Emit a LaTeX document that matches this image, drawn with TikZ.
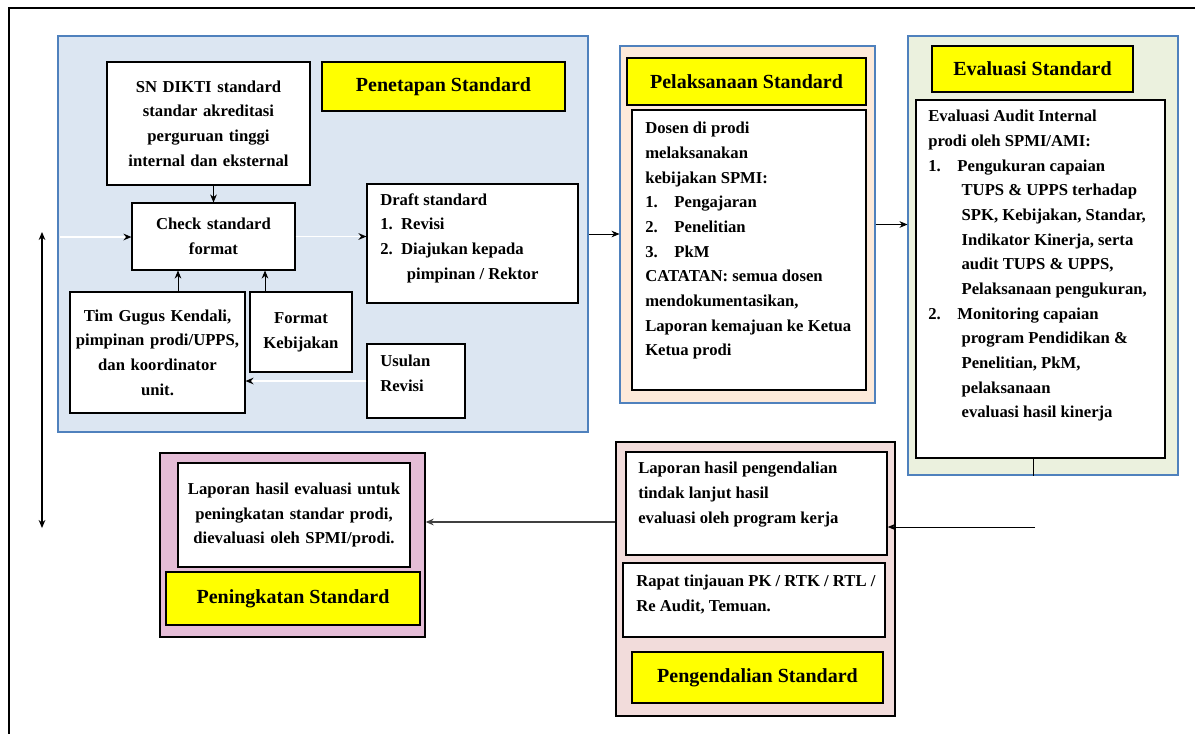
\documentclass[tikz,border=0pt]{standalone}
\usepackage{fontspec}
\setmainfont{Liberation Serif}
\usetikzlibrary{arrows.meta}
\definecolor{pblue}{HTML}{DCE6F2}
\definecolor{pborder}{HTML}{4F81BD}
\definecolor{porange}{HTML}{FDEADA}
\definecolor{pgreen}{HTML}{EBF1DE}
\definecolor{ppink}{HTML}{E4BCD6}
\definecolor{ppeach}{HTML}{F2DCDB}
\definecolor{hyellow}{HTML}{FFFF00}
\newcommand\fs{\fontsize{12.5}{18.5}\selectfont\bfseries}
\newcommand\hfs{\fontsize{15}{18}\selectfont\bfseries}
\newcommand\rbox[7]{\node[#6, minimum width={(#4-#2)*0.75pt}, minimum height={(#5-#3)*0.75pt}, inner sep=0pt] (#1) at ({(#2+#4)/2},{(#3+#5)/2}) {#7};}
\tikzset{
  panel/.style={draw=pborder, line width=0.8pt},
  wbox/.style={draw=black, fill=white, line width=0.8pt},
  ybox/.style={draw=black, fill=hyellow, line width=0.9pt, font=\hfs},
  txt/.style={inner sep=0pt, align=left, font=\fs},
  ctxt/.style={align=center, font=\fs},
  arr/.style={-{Stealth[length=6pt,width=5pt]}, line width=0.6pt},
  parr/.style={-{Stealth[length=6pt,width=5pt,black]}, draw=white, line width=1.2pt},
}
\begin{document}
\begin{tikzpicture}[x=0.75pt,y=-0.75pt]
\useasboundingbox (0,0) rectangle (1195,733);
\draw[line width=1.2pt] (9,745) -- (9,8) -- (1205,8);

% ---------- Penetapan ----------
\rbox{pen}{58}{36}{588}{432}{panel, fill=pblue}{}
\rbox{sn}{107}{62}{310}{185}{wbox, ctxt, text width={195*0.75pt}}{SN DIKTI standard\\standar akreditasi\\perguruan tinggi\\internal dan eksternal}
\rbox{penH}{322}{62}{565}{111}{ybox}{Penetapan Standard}
\rbox{chk}{132}{203}{295}{270}{wbox, ctxt, text width={155*0.75pt}}{Check standard\\format}
\rbox{drf}{367}{184}{578}{303}{wbox}{}
\node[txt, anchor=north west] (drft) at (380,193) {Draft standard\\1.\enspace Revisi\\2.\enspace Diajukan kepada\\\hspace*{1.6em}pimpinan / Rektor};
\rbox{tim}{70}{292}{245}{413}{wbox, ctxt, text width={165*0.75pt}}{Tim Gugus Kendali,\\pimpinan prodi/UPPS,\\dan koordinator\\unit.}
\rbox{fmt}{250}{292}{352}{372}{wbox, ctxt, text width={95*0.75pt}}{Format\\Kebijakan}
\rbox{usl}{367}{344}{465}{418}{wbox}{}
\node[txt, anchor=north west] (uslt) at (380,355) {Usulan\\Revisi};

\draw[arr] (sn.south -| chk.north) -- (chk.north);
\draw[parr] (chk.east) -- (chk.east -| drf.west);
\draw[arr] (tim.north -| 178,0) -- (chk.south -| 178,0);
\draw[arr] (fmt.north -| 265,0) -- (chk.south -| 265,0);
\draw[parr] (usl.west) -- (usl.west -| tim.east);
\coordinate (lin) at (60,237);
\draw[parr] (lin) -- (lin -| chk.west);

% ---------- Pelaksanaan ----------
\rbox{pel}{620}{46}{875}{403}{panel, fill=porange}{}
\rbox{pelH}{627}{58}{866}{105}{ybox}{Pelaksanaan Standard}
\rbox{pelW}{632}{110}{866}{390}{wbox}{}
\node[txt, anchor=north west] (pelt) at (645,122) {Dosen di prodi\\melaksanakan\\kebijakan SPMI:\\1.\quad Pengajaran\\2.\quad Penelitian\\3.\quad PkM\\CATATAN: semua dosen\\mendokumentasikan,\\Laporan kemajuan ke Ketua\\Ketua prodi};

% ---------- Evaluasi ----------
\rbox{eva}{908}{36}{1178}{475}{panel, fill=pgreen}{}
\rbox{evaH}{932}{46}{1133}{92}{ybox}{Evaluasi Standard}
\rbox{evaW}{916}{100}{1165}{458}{wbox}{}
\node[txt, anchor=north west] (evat) at (928,110) {Evaluasi Audit Internal\\prodi oleh SPMI/AMI:\\1.\quad Pengukuran capaian\\\hspace*{2em}TUPS \& UPPS terhadap\\\hspace*{2em}SPK, Kebijakan, Standar,\\\hspace*{2em}Indikator Kinerja, serta\\\hspace*{2em}audit TUPS \& UPPS,\\\hspace*{2em}Pelaksanaan pengukuran,\\2.\quad Monitoring capaian\\\hspace*{2em}program Pendidikan \&\\\hspace*{2em}Penelitian, PkM,\\\hspace*{2em}pelaksanaan\\\hspace*{2em}evaluasi hasil kinerja};

% ---------- Pengendalian ----------
\rbox{gp}{616}{442}{895}{716}{draw=black, line width=1pt, fill=ppeach}{}
\rbox{g1}{626}{452}{887}{555}{wbox, line width=1.2pt}{}
\node[txt, anchor=north west] (g1t) at (638,462) {Laporan hasil pengendalian\\tindak lanjut hasil\\evaluasi oleh program kerja};
\rbox{g2}{623}{563}{885}{637}{wbox}{}
\node[txt, anchor=north west] (g2t) at (636,575) {Rapat tinjauan PK / RTK / RTL /\\Re Audit, Temuan.};
\rbox{gH}{632}{652}{883}{703}{ybox}{Pengendalian Standard}

% ---------- Peningkatan ----------
\rbox{ip}{160}{453}{425}{637}{draw=black, line width=1pt, fill=ppink}{}
\rbox{i1}{178}{463}{410}{567}{wbox, ctxt, text width={228*0.75pt}}{Laporan hasil evaluasi untuk\\peningkatan standar prodi,\\dievaluasi oleh SPMI/prodi.}
\rbox{iH}{166}{572}{420}{625}{ybox}{Peningkatan Standard}

% ---------- connectors between stages ----------
\draw[arr] (pen.east) -- (pen.east -| pel.west);
\draw[arr] (pel.east) -- (pel.east -| eva.west);
\draw[line width=0.6pt] (evaW.south -| 1033,0) -- (eva.south -| 1033,0);
\coordinate (ce) at (1035,527);
\draw[arr] (ce) -- (ce -| g1.east);
\draw[arr, line width=1.6pt, draw=black!75] (gp.west |- 0,522) -- (ip.east |- 0,522);
\coordinate (va) at (42,232);
\coordinate (vb) at (42,528);
\draw[{Stealth[length=6pt,width=5pt]}-{Stealth[length=6pt,width=5pt]}, line width=0.8pt] (va) -- (vb);
\end{tikzpicture}
\end{document}
